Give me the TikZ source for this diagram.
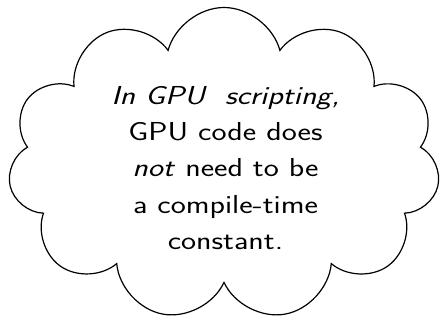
\documentclass[tikz,border=0pt]{standalone}
\usepackage{fontspec}
\usetikzlibrary{shapes.symbols}
\begin{document}
\begin{tikzpicture}[x=1pt,y=1pt]
\useasboundingbox (0,0) rectangle (442,323);
\tikzset{bubble/.style={cloud, draw, cloud puffs=11, cloud ignores aspect, minimum width=432pt, minimum height=313pt, line width=1.2pt, inner sep=0pt},
  msg/.style={align=center, font=\sffamily\fontsize{26}{36.3}\selectfont, inner sep=0pt}}
\node[bubble] (c) at (224,159) {};
\node[msg] (t) at (225.5,155) {\scalebox{1.23}[1]{\textit{In GPU\ \ scripting,}}\\ \scalebox{1.23}[1]{GPU code does}\\ \scalebox{1.23}[1]{\textit{not} need to be}\\ \scalebox{1.23}[1]{a compile-time}\\ \scalebox{1.23}[1]{constant.}};
\end{tikzpicture}
\end{document}
